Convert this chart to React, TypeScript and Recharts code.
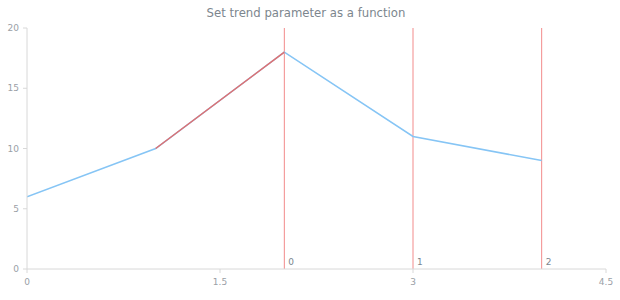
import * as React from "react";
import {
  ComposedChart,
  Line,
  XAxis,
  YAxis,
  ReferenceLine,
} from "recharts";

const xValues = [0, 1, 2, 3, 4];
const yValues = [6, 10, 18, 11, 9];
// segment drawn in the trend colour
const trendX = [1, 2];
const markerX = [2, 3, 4];
const markerLabels = ["0", "1", "2"];
const xTicks = [0, 1.5, 3, 4.5];
const yTicks = [0, 5, 10, 15, 20];

const data = xValues.map((x, i) => ({
  x,
  value: yValues[i],
  trend: trendX.includes(x) ? yValues[i] : null,
}));

const FONT = "'DejaVu Sans', Verdana, sans-serif";
const tickStyle = { fontSize: 9, fill: "#9aa0a6", fontFamily: FONT };

export default function App() {
  return (
    <div style={{ position: "absolute", left: 0, top: 0, width: 620, height: 300, background: "#fff" }}>
      <div
        style={{
          position: "absolute",
          left: 0,
          top: 6,
          width: 612,
          textAlign: "center",
          fontFamily: FONT,
          fontSize: 11.7,
          color: "#7c868e",
        }}
      >
        Set trend parameter as a function
      </div>
      <ComposedChart
        width={620}
        height={300}
        data={data}
        margin={{ top: 28, right: 14, bottom: 0, left: 0 }}
      >
        <XAxis
          dataKey="x"
          type="number"
          domain={[0, 4.5]}
          ticks={xTicks}
          tick={tickStyle}
          tickSize={4}
          tickMargin={6}
          height={31}
          stroke="#d8d8d8"
          allowDataOverflow
        />
        <YAxis
          type="number"
          domain={[0, 20]}
          ticks={yTicks}
          tick={tickStyle}
          tickSize={4}
          tickMargin={4}
          width={27}
          stroke="#d8d8d8"
        />
        {markerX.map((mx, i) => (
          <ReferenceLine
            key={mx}
            x={mx}
            stroke="#f28b8b"
            strokeWidth={1}
            label={{
              value: markerLabels[i],
              position: "insideBottomLeft",
              offset: 4,
              fontSize: 9,
              fill: "#7c868e",
              fontFamily: FONT,
            }}
          />
        ))}
        <Line
          dataKey="value"
          stroke="#86c5f5"
          strokeWidth={1.5}
          dot={false}
          isAnimationActive={false}
        />
        <Line
          dataKey="trend"
          stroke="#e07070"
          strokeWidth={1.5}
          dot={false}
          connectNulls={false}
          isAnimationActive={false}
        />
      </ComposedChart>
    </div>
  );
}
